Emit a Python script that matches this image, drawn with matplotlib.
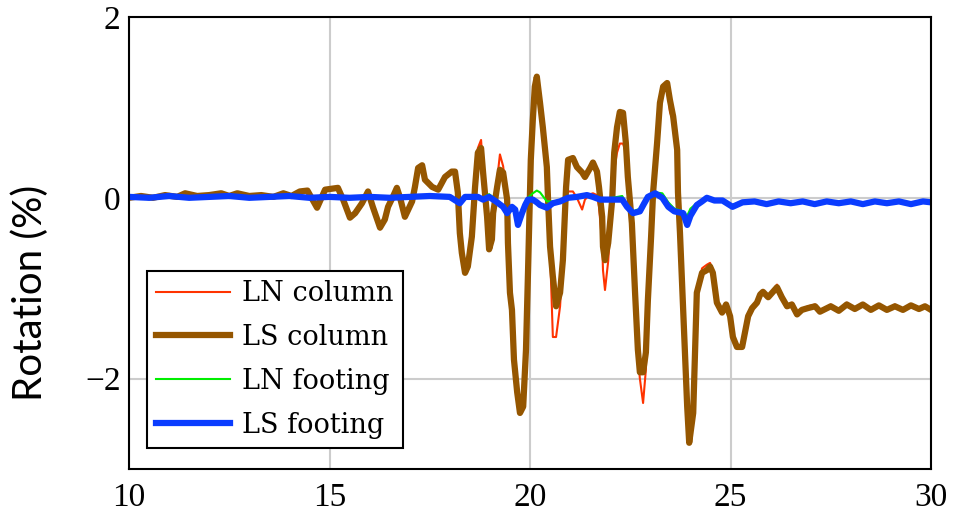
import matplotlib
matplotlib.use("Agg")
import matplotlib.pyplot as plt

# column rotation (time in s, rotation in %)
t_col = [10.0, 10.3, 10.6, 10.9, 11.2, 11.4, 11.7, 12.0, 12.3, 12.5, 12.7, 13.0,
         13.3, 13.6, 13.85, 14.05, 14.26, 14.45, 14.69, 14.89, 15.21, 15.34, 15.51,
         15.64, 15.81, 15.96, 16.08, 16.26, 16.38, 16.46, 16.58, 16.68, 16.76, 16.88,
         17.06, 17.13, 17.21, 17.31, 17.38, 17.56, 17.71, 17.88, 18.05, 18.13, 18.2,
         18.25, 18.3, 18.38, 18.45, 18.55, 18.63, 18.7, 18.78, 18.83, 18.93, 18.98,
         19.05, 19.08, 19.18, 19.25, 19.33, 19.43, 19.45, 19.5, 19.55, 19.6, 19.68,
         19.75, 19.83, 19.9, 19.95, 20.02, 20.07, 20.12, 20.17, 20.25, 20.32, 20.42,
         20.45, 20.5, 20.57, 20.65, 20.75, 20.82, 20.9, 20.95, 21.07, 21.17, 21.3,
         21.37, 21.5, 21.57, 21.67, 21.72, 21.8, 21.82, 21.87, 21.95, 22.05, 22.1,
         22.17, 22.24, 22.32, 22.39, 22.44, 22.54, 22.62, 22.69, 22.74, 22.82, 22.89,
         22.94, 23.02, 23.07, 23.17, 23.24, 23.32, 23.42, 23.49, 23.57, 23.67, 23.69,
         23.74, 23.82, 23.92, 23.97, 24.07, 24.11, 24.16, 24.29, 24.41, 24.49, 24.56,
         24.66, 24.79, 24.89, 24.99, 25.06, 25.16, 25.29, 25.36, 25.44, 25.54, 25.66,
         25.74, 25.81, 25.94, 26.06, 26.16, 26.28, 26.41, 26.53, 26.66, 26.78, 26.93,
         27.11, 27.23, 27.5, 27.7, 27.9, 28.1, 28.3, 28.5, 28.7, 28.9, 29.1, 29.3,
         29.5, 29.7, 29.85, 30.0]

ls_column = [0.0, 0.02, 0.0, 0.03, 0.01, 0.05, 0.02, 0.03, 0.05, 0.02, 0.05, 0.02,
             0.03, 0.01, 0.05, 0.02, 0.07, 0.08, -0.11, 0.09, 0.11, -0.02, -0.22,
             -0.17, -0.06, 0.07, -0.1, -0.33, -0.24, -0.1, 0.01, 0.11, 0.0, -0.21,
             -0.04, 0.12, 0.33, 0.36, 0.2, 0.12, 0.09, 0.23, 0.29, 0.29, 0.06,
             -0.39, -0.61, -0.83, -0.76, -0.43, 0.12, 0.5, 0.55, 0.28, -0.21, -0.57,
             -0.46, -0.17, 0.12, 0.31, 0.28, -0.02, -0.5, -1.05, -1.24, -1.79, -2.15,
             -2.38, -2.31, -1.68, -0.83, 0.42, 0.86, 1.23, 1.34, 1.05, 0.78, 0.34,
             -0.02, -0.54, -0.87, -1.2, -1.05, -0.69, 0.12, 0.42, 0.44, 0.34, 0.28,
             0.23, 0.33, 0.39, 0.29, 0.12, -0.21, -0.54, -0.69, -0.5, -0.02, 0.5,
             0.78, 0.95, 0.94, 0.61, 0.23, -0.28, -1.05, -1.68, -1.93, -1.93, -1.71,
             -1.13, -0.43, 0.06, 0.61, 1.05, 1.23, 1.27, 1.08, 0.9, 0.53, 0.06,
             -0.39, -1.24, -2.31, -2.71, -2.38, -1.79, -1.05, -0.83, -0.8, -0.76, -0.83,
             -1.16, -1.27, -1.18, -1.31, -1.54, -1.65, -1.65, -1.49, -1.31, -1.22, -1.16,
             -1.07, -1.04, -1.1, -1.04, -0.99, -1.1, -1.2, -1.18, -1.29, -1.24, -1.22,
             -1.2, -1.26, -1.2, -1.25, -1.18, -1.23, -1.18, -1.24, -1.19, -1.24, -1.2, -1.24,
             -1.19, -1.23, -1.2, -1.24]

ln_column = [0.0, 0.02, 0.0, 0.03, 0.01, 0.05, 0.02, 0.03, 0.05, 0.02, 0.05, 0.02,
             0.03, 0.01, 0.05, 0.02, 0.07, 0.08, -0.12, 0.09, 0.11, -0.02, -0.22,
             -0.17, -0.06, 0.07, -0.1, -0.35, -0.24, -0.1, 0.01, 0.11, 0.0, -0.21,
             -0.04, 0.12, 0.33, 0.36, 0.2, 0.12, 0.09, 0.23, 0.29, 0.29, 0.06,
             -0.39, -0.61, -0.83, -0.76, -0.43, 0.12, 0.55, 0.64, 0.3, -0.21, -0.57,
             -0.46, -0.17, 0.2, 0.48, 0.35, -0.02, -0.5, -1.05, -1.24, -1.79, -2.15,
             -2.38, -2.31, -1.68, -0.83, 0.3, 0.8, 1.2, 1.34, 1.05, 0.78, 0.34,
             -0.02, -0.6, -1.54, -1.54, -1.2, -0.69, 0.05, 0.07, 0.07, 0.0, -0.13,
             -0.02, 0.04, 0.05, 0.03, -0.1, -0.5, -0.8, -1.02, -0.7, -0.02, 0.3,
             0.5, 0.6, 0.6, 0.5, 0.2, -0.28, -1.05, -1.75, -2.0, -2.27, -1.9,
             -1.13, -0.5, 0.0, 0.55, 1.0, 1.2, 1.25, 0.95, 0.85, 0.53, 0.06,
             -0.39, -1.24, -2.31, -2.71, -2.38, -1.79, -1.05, -0.78, -0.74, -0.72, -0.8,
             -1.16, -1.27, -1.18, -1.31, -1.54, -1.65, -1.65, -1.49, -1.31, -1.2, -1.14,
             -1.05, -1.02, -1.1, -1.02, -0.96, -1.1, -1.2, -1.16, -1.29, -1.24, -1.2,
             -1.18, -1.26, -1.18, -1.25, -1.16, -1.23, -1.17, -1.24, -1.18, -1.24, -1.18, -1.24,
             -1.18, -1.23, -1.19, -1.24]

# footing rotation
t_ft = [10.0, 10.5, 11.0, 11.5, 12.0, 12.5, 13.0, 13.5, 14.0, 14.5, 15.0, 15.5,
        16.0, 16.5, 17.0, 17.5, 18.0, 18.25, 18.38, 18.7, 18.83, 18.98, 19.15, 19.33,
        19.43, 19.55, 19.63, 19.7, 19.8, 19.88, 19.95, 20.07, 20.17, 20.25, 20.42, 20.57,
        20.75, 20.95, 21.17, 21.42, 21.57, 21.75, 22.05, 22.3, 22.42, 22.57, 22.74, 22.85,
        22.94, 23.12, 23.3, 23.45, 23.6, 23.82, 23.92, 24.0, 24.16, 24.29, 24.41, 24.6,
        24.8, 25.05, 25.3, 25.6, 25.9, 26.2, 26.5, 26.8, 27.1, 27.4, 27.7, 28.0,
        28.3, 28.6, 28.9, 29.2, 29.5, 29.8, 30.0]

ls_footing = [0.01, 0.0, 0.02, 0.0, 0.01, 0.02, 0.0, 0.01, 0.02, 0.0, 0.01, 0.0,
              0.01, 0.0, 0.01, 0.02, 0.01, -0.06, 0.01, 0.01, -0.02, 0.01, -0.04, -0.1,
              -0.17, -0.1, -0.13, -0.3, -0.17, -0.08, -0.02, -0.02, -0.05, -0.08, -0.11, -0.06,
              -0.04, 0.0, 0.01, 0.03, 0.01, -0.02, -0.02, -0.02, -0.1, -0.17, -0.15, -0.06,
              0.01, 0.05, 0.0, -0.1, -0.15, -0.17, -0.3, -0.2, -0.08, -0.04, 0.0, -0.03,
              -0.03, -0.1, -0.05, -0.04, -0.07, -0.04, -0.06, -0.04, -0.07, -0.04, -0.06, -0.04,
              -0.07, -0.04, -0.06, -0.04, -0.07, -0.04, -0.05]

ln_footing = [0.01, 0.0, 0.02, 0.0, 0.01, 0.02, 0.0, 0.01, 0.02, 0.0, 0.01, 0.0,
              0.01, 0.0, 0.01, 0.02, 0.01, -0.05, 0.01, 0.02, 0.0, 0.04, -0.02, -0.08,
              -0.15, -0.1, -0.12, -0.2, -0.15, -0.06, 0.0, 0.05, 0.08, 0.06, -0.04, -0.04,
              -0.03, 0.0, 0.02, 0.03, 0.01, -0.01, 0.0, 0.02, -0.08, -0.15, -0.12, -0.04,
              0.02, 0.06, 0.05, -0.05, -0.12, -0.15, -0.2, -0.12, -0.06, -0.03, 0.0, -0.02,
              -0.02, -0.08, -0.04, -0.03, -0.06, -0.03, -0.05, -0.03, -0.06, -0.03, -0.05, -0.03,
              -0.06, -0.03, -0.05, -0.03, -0.06, -0.03, -0.04]

fig = plt.figure(figsize=(9.58, 5.18), dpi=100)
ax = fig.add_axes([129 / 958, 49 / 518, 802 / 958, 452 / 518])

ax.plot(t_col, ln_column, color='#ff3300', lw=1.5, label='LN column')
ax.plot(t_col, ls_column, color='#955600', lw=4.5, label='LS column')
ax.plot(t_ft, ln_footing, color='#00ee00', lw=1.5, label='LN footing')
ax.plot(t_ft, ls_footing, color='#0a3cff', lw=4.5, label='LS footing')

ax.set_xlim(10, 30)
ax.set_ylim(-3, 2)
ax.set_xticks([10, 15, 20, 25, 30])
ax.set_yticks([-2, 0, 2])
ax.set_yticklabels(['\u22122', '0', '2'])
ax.grid(True, color='#cccccc', lw=1.5)
ax.set_axisbelow(True)
ax.tick_params(length=0, labelsize=24)
ax.tick_params(axis='x', pad=10)
ax.tick_params(axis='y', pad=6)
for lab in ax.get_xticklabels() + ax.get_yticklabels():
    lab.set_family('Liberation Serif')
for s in ax.spines.values():
    s.set_linewidth(1.5)
    s.set_color('black')

ax.set_ylabel('Rotation (%)', fontsize=29, family='Lato')
ax.yaxis.set_label_coords(-0.1, 0.39)

leg = ax.legend(loc='lower left', bbox_to_anchor=(0.0224, 0.0465), borderaxespad=0,
                prop={'family': 'DejaVu Serif', 'size': 19.5}, fancybox=False,
                framealpha=1, edgecolor='black', handlelength=2.7, handletextpad=0.45,
                labelspacing=0.62, borderpad=0.35)
leg.get_frame().set_linewidth(1.5)

fig.savefig('out.png', dpi=100)
